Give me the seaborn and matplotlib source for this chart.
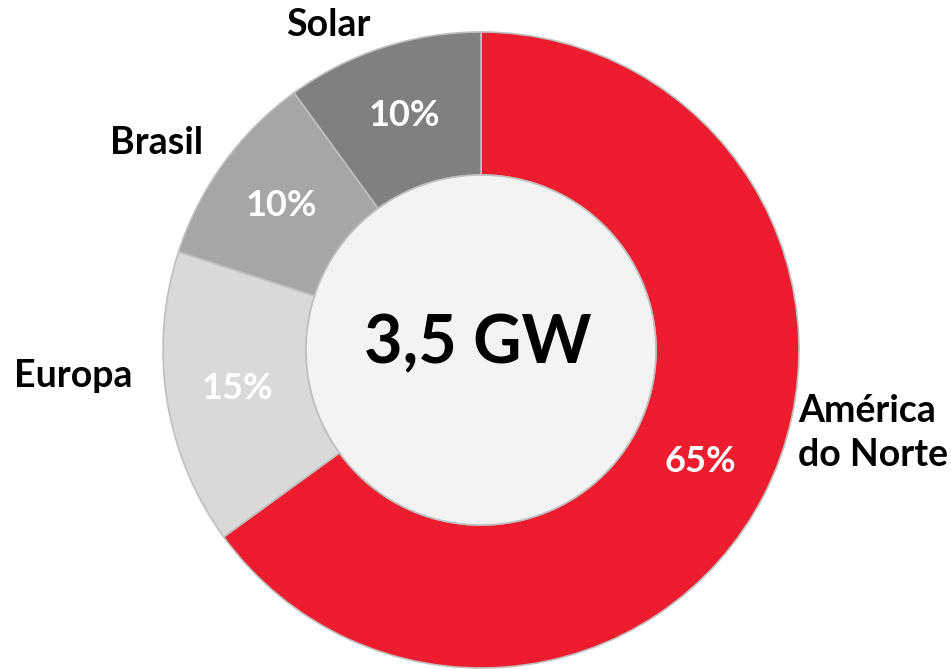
import matplotlib
matplotlib.use("Agg")
import matplotlib.pyplot as plt
from matplotlib.patches import Circle
import seaborn as sns

# Installed capacity by region
regions = ["América\ndo Norte", "Europa", "Brasil", "Solar"]
shares = [65, 15, 10, 10]
colors = ["#ED1C2E", "#D9D9D9", "#A6A6A6", "#808080"]
total_label = "3,5 GW"

sns.set_theme(style="white")
plt.rcParams["font.family"] = ["Lato", "DejaVu Sans"]

W, H = 951, 669
fig = plt.figure(figsize=(W / 100, H / 100), dpi=100)
ax = fig.add_axes([0, 0, 1, 1])

cx, cy = 481, H - 350
r_out, r_in = 318, 175

wedges, texts, autotexts = ax.pie(
    shares,
    colors=colors,
    startangle=90,
    counterclock=False,
    center=(cx, cy),
    radius=r_out,
    autopct="%d%%",
    pctdistance=(r_in + r_out) / 2 / r_out,
    wedgeprops=dict(width=r_out - r_in, edgecolor="#BFBFBF", linewidth=1.2),
    textprops=dict(color="white", fontsize=26, fontweight="bold"),
    frame=True,
)
ax.set_xlim(0, W)
ax.set_ylim(0, H)
ax.set_aspect("equal")
ax.axis("off")

# Centre disc with the total
ax.add_patch(Circle((cx, cy), r_in, facecolor="#F3F3F3", edgecolor="#BFBFBF", linewidth=1.2, zorder=3))
ax.text(cx - 3, H - 344, total_label, ha="center", va="center",
        fontsize=48, fontweight="bold", color="black", zorder=4)

# Region names outside the ring
label_pos = {
    "América\ndo Norte": (798, H - 433, "left"),
    "Europa": (73, H - 376, "center"),
    "Brasil": (157, H - 143, "center"),
    "Solar": (328, H - 25, "center"),
}
for name in regions:
    x, y, ha = label_pos[name]
    ax.text(x, y, name, ha=ha, va="center", fontsize=27, fontweight="bold",
            color="black", linespacing=1.35)

fig.savefig("out.png", dpi=100, facecolor="white")
